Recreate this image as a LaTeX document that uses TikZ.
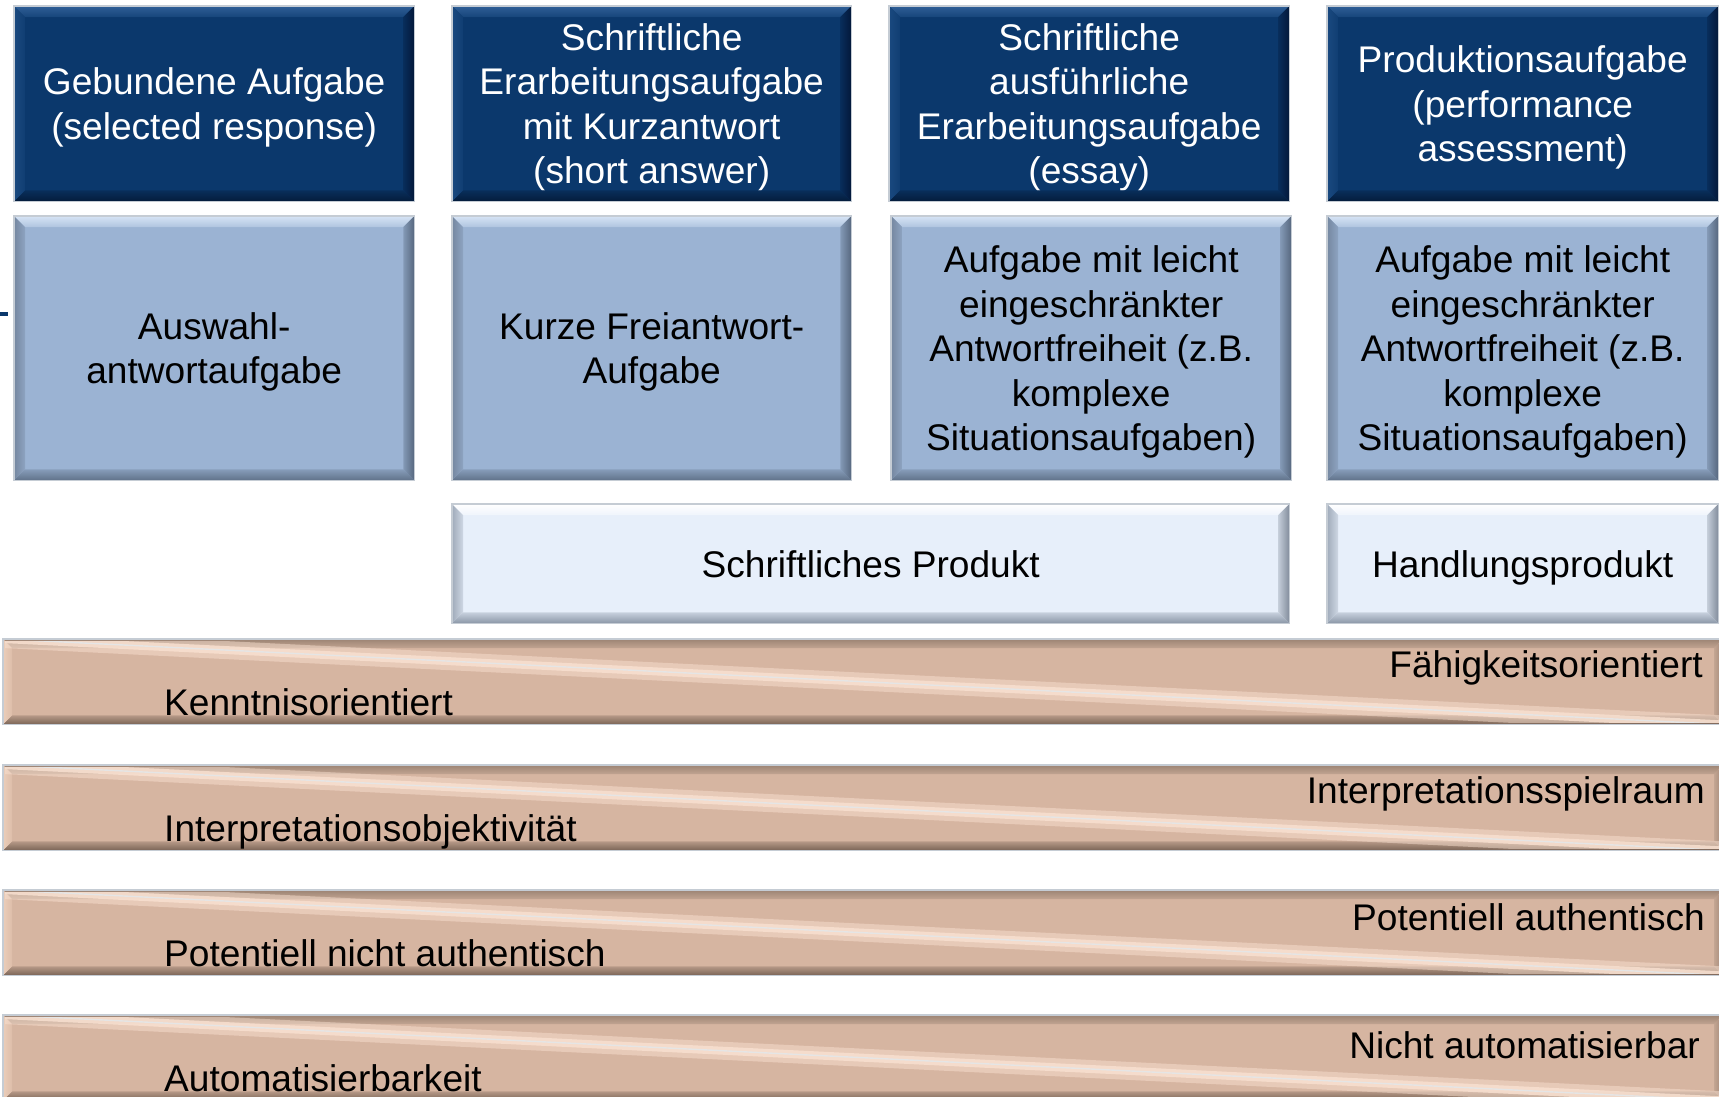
\documentclass[tikz,border=0pt]{standalone}
\usepackage{fontspec}
\setmainfont{Liberation Sans}
\definecolor{navy}{HTML}{0B386C}
\definecolor{navyT}{HTML}{2E5E96}
\definecolor{navyB}{HTML}{041C3B}
\definecolor{navyL}{HTML}{1A497F}
\definecolor{navyR}{HTML}{03183A}
\definecolor{sky}{HTML}{9BB3D3}
\definecolor{skyT}{HTML}{D6E4F5}
\definecolor{skyB}{HTML}{607289}
\definecolor{skyL}{HTML}{7587A0}
\definecolor{skyR}{HTML}{56677E}
\definecolor{pale}{HTML}{E7EFFA}
\definecolor{paleT}{HTML}{FFFFFF}
\definecolor{paleB}{HTML}{8A96A6}
\definecolor{paleL}{HTML}{A0ABBA}
\definecolor{paleR}{HTML}{818C9B}
\definecolor{tan}{HTML}{D6B5A1}
\definecolor{tanT}{HTML}{9C8474}
\definecolor{tanB}{HTML}{7A6456}
\definecolor{tanL}{HTML}{EBCDB9}
\definecolor{tanR}{HTML}{9C8474}
\definecolor{tanH}{HTML}{F8E0D0}
\definecolor{rim}{HTML}{C5CCD4}
% bevelled edges of a rectangular node: node, base, top, bottom, left, right, width
\newcommand\bevelnode[7]{%
  \shade[top color=#3, bottom color=#3!35!#2]
    (#1.north west) -- (#1.north east) -- ([shift={(-#7,#7)}]#1.north east) -- ([shift={(#7,#7)}]#1.north west) -- cycle;
  \shade[bottom color=#4, top color=#4!35!#2]
    (#1.south west) -- (#1.south east) -- ([shift={(-#7,-#7)}]#1.south east) -- ([shift={(#7,-#7)}]#1.south west) -- cycle;
  \shade[left color=#5, right color=#5!35!#2]
    (#1.north west) -- (#1.south west) -- ([shift={(#7,-#7)}]#1.south west) -- ([shift={(#7,#7)}]#1.north west) -- cycle;
  \shade[right color=#6, left color=#6!35!#2]
    (#1.north east) -- (#1.south east) -- ([shift={(-#7,-#7)}]#1.south east) -- ([shift={(-#7,#7)}]#1.north east) -- cycle;
  \draw[rim, line width=1.2] (#1.north west) rectangle (#1.south east);
}
\tikzset{
  card/.style={anchor=north west, inner sep=0pt, align=center, text depth=0pt,
    font=\fontsize{37.1}{44.5}\selectfont},
  dark/.style={card, fill=navy, text=white},
  mid/.style={card, fill=sky, text=black},
  light/.style={card, fill=pale, text=black},
  bar/.style={anchor=north west, inner sep=0pt, fill=tan},
  barlabel/.style={inner sep=0pt, font=\fontsize{37.1}{44.5}\selectfont, text=black},
}
\begin{document}
\begin{tikzpicture}[x=1pt, y=-1pt]
\useasboundingbox (0,0) rectangle (1719,1096);
\clip (0,0) rectangle (1719,1096);

% first row: task types
\node[dark, minimum width=400, minimum height=195] (t1) at (14,6)
  {Gebundene Aufgabe\\(selected response)};
\node[dark, minimum width=399, minimum height=195] (t2) at (452,6)
  {Schriftliche\\Erarbeitungsaufgabe\\mit Kurzantwort\\(short answer)};
\node[dark, minimum width=400, minimum height=195] (t3) at (889,6)
  {Schriftliche\\ausführliche\\Erarbeitungsaufgabe\\(essay)};
\node[dark, minimum width=391, minimum height=195] (t4) at (1327,6)
  {Produktionsaufgabe\\(performance\\assessment)};
\foreach \n in {t1,t2,t3,t4} {\bevelnode{\n}{navy}{navyT}{navyB}{navyL}{navyR}{11}}

% second row: item formats
\node[mid, minimum width=400, minimum height=264] (m1) at (14,216)
  {Auswahl-\\antwortaufgabe};
\node[mid, minimum width=399, minimum height=264] (m2) at (452,216)
  {Kurze Freiantwort-\\Aufgabe};
\node[mid, minimum width=400, minimum height=264] (m3) at (891,216)
  {Aufgabe mit leicht\\eingeschränkter\\Antwortfreiheit (z.B.\\komplexe\\Situationsaufgaben)};
\node[mid, minimum width=391, minimum height=264] (m4) at (1327,216)
  {Aufgabe mit leicht\\eingeschränkter\\Antwortfreiheit (z.B.\\komplexe\\Situationsaufgaben)};
\foreach \n in {m1,m2,m3,m4} {\bevelnode{\n}{sky}{skyT}{skyB}{skyL}{skyR}{11}}

% third row: kind of product
\node[light, minimum width=837, minimum height=119] (p1) at (452,504)
  {Schriftliches Produkt};
\node[light, minimum width=391, minimum height=119] (p2) at (1327,504)
  {Handlungsprodukt};
\foreach \n in {p1,p2} {\bevelnode{\n}{pale}{paleT}{paleB}{paleL}{paleR}{11}}

% small mark on the left margin
\fill[navy] (0,312) rectangle (8,316);

% continua bars
\foreach \i/\y in {1/639, 2/765, 3/890, 4/1015} {
  \node[bar, minimum width=1720, minimum height=85] (bar\i) at (3,\y) {};
  \bevelnode{bar\i}{tan}{tanT}{tanB}{tanL}{tanR}{9}
  \begin{scope}
    \clip ([shift={(2,2)}]bar\i.north west) rectangle ([shift={(-2,-2)}]bar\i.south east);
    \draw[tanH, line width=18, opacity=0.5] (bar\i.north west) -- (bar\i.south east);
    \draw[tanH, line width=8, opacity=0.85] (bar\i.north west) -- (bar\i.south east);
    \draw[white!80!gray, line width=1.4] (bar\i.north west) -- (bar\i.south east);
  \end{scope}
}

% labels at both ends of each bar
\node[barlabel, anchor=base west] (l1) at (164,715) {Kenntnisorientiert};
\node[barlabel, anchor=base east] (r1) at (1703,677) {Fähigkeitsorientiert};
\node[barlabel, anchor=base west] (l2) at (164,841) {Interpretationsobjektivität};
\node[barlabel, anchor=base east] (r2) at (1705,803) {Interpretationsspielraum};
\node[barlabel, anchor=base west] (l3) at (164,966) {Potentiell nicht authentisch};
\node[barlabel, anchor=base east] (r3) at (1705,930) {Potentiell authentisch};
\node[barlabel, anchor=base west] (l4) at (164,1091) {Automatisierbarkeit};
\node[barlabel, anchor=base east] (r4) at (1700,1058) {Nicht automatisierbar};
\end{tikzpicture}
\end{document}
